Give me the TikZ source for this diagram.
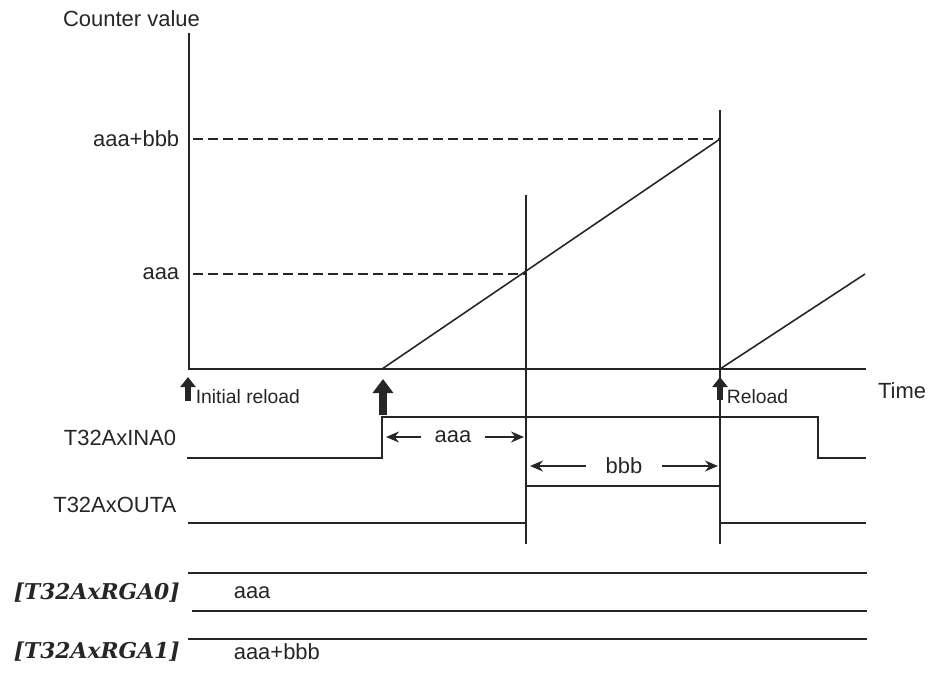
\documentclass[tikz,border=0pt]{standalone}
\usepackage{fontspec}
\setmainfont{Liberation Sans}
\newfontfamily\regfont{DejaVu Serif}
\usetikzlibrary{arrows.meta}

\begin{document}
\begin{tikzpicture}[line width=.9pt, color=black!85,
    lbl/.style={font=\fontsize{12.5}{15}\selectfont, inner sep=0pt},
    small/.style={font=\fontsize{11}{13}\selectfont, inner sep=0pt, anchor=west},
    reg/.style={font=\regfont\bfseries\itshape\fontsize{12.4}{15}\selectfont, inner sep=0pt, anchor=west},
    axis/.style={line width=1.4pt},
    level/.style={dash pattern=on .2cm off .1cm},
    dim/.style={-{Stealth[length=.26cm,width=.22cm]}},
    upsmall/.style={line width=3.4pt, -{Triangle[length=.2cm,width=.3cm]}},
    upbig/.style={line width=5pt, -{Triangle[length=.28cm,width=.4cm]}}]
    \useasboundingbox (0,0) rectangle (18.6,13.5);
    % axes
    \draw[axis] (3.78,12.84) -- (3.78,6.12) -- (17.32,6.12);
    \node[lbl] (cv) at (2.63,13.12) {Counter value};
    \node[lbl] (time) at (18.04,5.68) {Time};
    \node[lbl, anchor=east] (lab) at (3.6,10.72) {aaa+bbb};
    \node[lbl, anchor=east] (la) at (3.6,8.02) {aaa};
    \draw[level] (3.86,10.72) -- (14.4,10.72);
    \draw[level] (3.86,8.02) -- (10.52,8.02);
    % counter
    \draw (7.64,6.12) -- (14.4,10.72);
    \draw (14.4,6.12) -- (17.3,8.02);
    \draw (10.52,9.6) -- (10.52,2.62);
    \draw (14.4,11.3) -- (14.4,2.62);
    % reloads
    \draw[upsmall] (3.76,5.48) -- (3.76,5.96);
    \draw[upbig] (7.66,5.2) -- (7.66,5.92);
    \draw[upsmall] (14.4,5.5) -- (14.4,5.96);
    \node[small] (ir) at (3.9,5.56) {Initial reload};
    \node[small] (rl) at (14.52,5.56) {Reload};
    % INA0
    \node[lbl, anchor=east] (ina) at (3.54,4.75) {T32AxINA0};
    \draw (3.74,4.34) -- (7.64,4.34) -- (7.64,5.16) -- (16.36,5.16) -- (16.36,4.34) -- (17.32,4.34);
    % OUTA
    \node[lbl, anchor=east] (outa) at (3.54,3.4) {T32AxOUTA};
    \draw (3.76,3.04) -- (10.52,3.04) -- (10.52,3.78) -- (14.4,3.78) -- (14.4,3.04) -- (17.32,3.04);
    % widths
    \node[lbl, inner xsep=.25cm] (wa) at (9.06,4.76) {aaa};
    \coordinate (wa1) at (7.72,4.76);
    \coordinate (wa2) at (10.48,4.76);
    \draw[dim] (wa) -- (wa1);
    \draw[dim] (wa) -- (wa2);
    \node[lbl, inner xsep=.38cm] (wb) at (12.48,4.18) {bbb};
    \coordinate (wb1) at (10.6,4.18);
    \coordinate (wb2) at (14.36,4.18);
    \draw[dim] (wb) -- (wb1);
    \draw[dim] (wb) -- (wb2);
    % registers
    \draw (3.76,2.04) -- (17.34,2.04);
    \draw (3.84,1.28) -- (17.34,1.28);
    \draw (3.76,0.72) -- (17.34,0.72);
    \node[reg] (rga0) at (0.26,1.64) {[T32AxRGA0]};
    \node[reg] (rga1) at (0.26,0.46) {[T32AxRGA1]};
    \node[lbl, anchor=west] (v0) at (4.66,1.64) {aaa};
    \node[lbl, anchor=west] (v1) at (4.66,0.46) {aaa+bbb};
\end{tikzpicture}
\end{document}
